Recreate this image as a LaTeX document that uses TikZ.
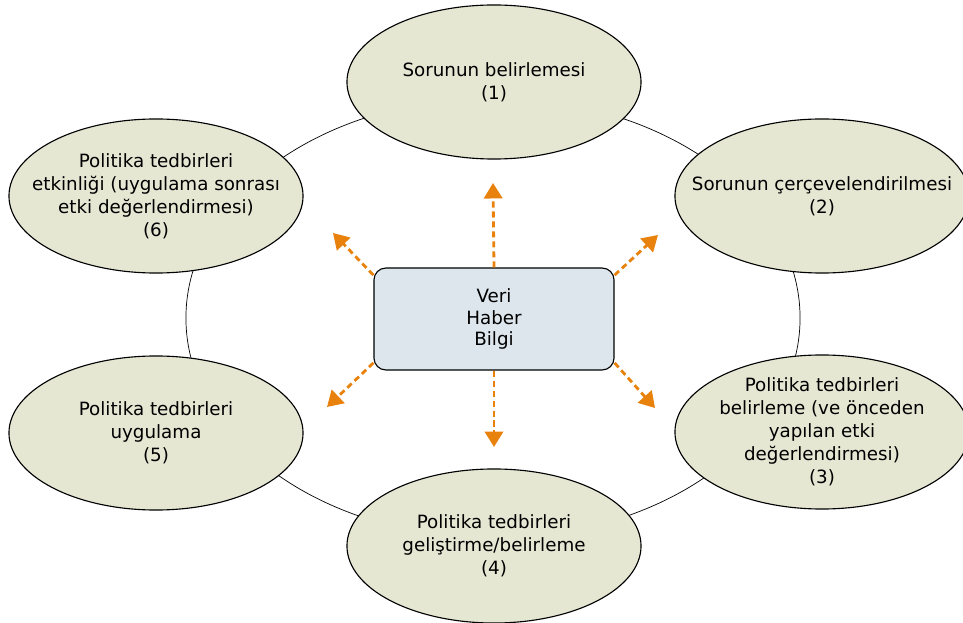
\documentclass[tikz,border=0pt]{standalone}
\usepackage{fontspec}
\setmainfont{DejaVu Sans}
\usetikzlibrary{shapes.geometric,arrows.meta}
\definecolor{stagefill}{HTML}{E5E7D3}
\definecolor{boxfill}{HTML}{DCE6EC}
\definecolor{flow}{HTML}{E8820C}

\begin{document}
\begin{tikzpicture}[x=0.025cm,y=-0.025cm,
    stage/.style={ellipse, draw, line width=0.8pt, fill=stagefill, minimum width=7.35cm, minimum height=3.85cm, inner xsep=-1.3cm, inner ysep=0pt, align=center, font=\fontsize{13}{16.3}\selectfont},
    databox/.style={draw, line width=0.8pt, rounded corners=0.3cm, fill=boxfill, minimum width=6cm, minimum height=2.55cm, align=center, font=\fontsize{13}{15.6}\selectfont},
    flowarrow/.style={flow, line width=2pt, dash pattern=on 4.3pt off 2.8pt, -{Triangle[width=13pt,length=11pt]}}]
                    \useasboundingbox (0,0) rectangle (963,623);
                    \draw[line width=0.5pt] (493,318) ellipse [x radius=7.675cm, y radius=5.5cm];

                    \foreach \px/\py/\name/\txt in {494/82/s1/{Sorunun belirlemesi\\(1)},
                                                   822/196/s2/{Sorunun çerçevelendirilmesi\\(2)},
                                                   822/432/s3/{Politika tedbirleri\\belirleme (ve önceden\\yapılan etki\\değerlendirmesi)\\(3)},
                                                   494/546/s4/{Politika tedbirleri\\geliştirme/belirleme\\(4)},
                                                   156/433/s5/{Politika tedbirleri\\uygulama\\(5)},
                                                   156/196/s6/{Politika tedbirleri\\etkinliği (uygulama sonrası\\etki değerlendirmesi)\\(6)}} {
                        \node[stage] (\name) at (\px,\py) {\txt};
                    }

                    \node[databox] (data) at (494,319) {Veri\\Haber\\Bilgi};

                    \coordinate (tipN) at (493,183);
                    \coordinate (tipS) at (494,447);
                    \coordinate (tipNW) at (333,233);
                    \coordinate (tipNE) at (658,235);
                    \coordinate (tipSW) at (327,407);
                    \coordinate (tipSE) at (655,408);

                    \foreach \a/\t in {90/tipN, 270/tipS, 160/tipNW, 20/tipNE, 200/tipSW, 340/tipSE} {
                        \draw[flowarrow] (data.\a) -- (\t);
                    }
                \end{tikzpicture}
\end{document}
